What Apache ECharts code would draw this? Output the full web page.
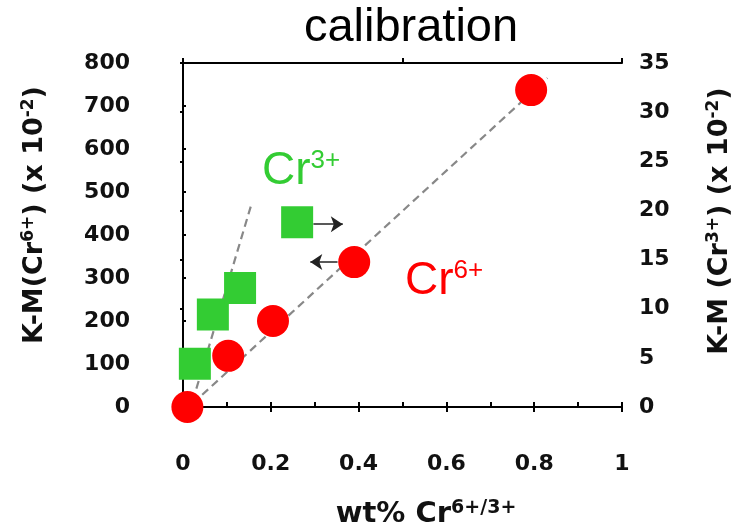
<!DOCTYPE html>
<html>
<head>
<meta charset="utf-8">
<script src="https://cdn.jsdelivr.net/npm/echarts@6/dist/echarts.min.js"></script>
<style>html,body{margin:0;padding:0;background:#fff}#c{width:749px;height:529px}</style>
</head>
<body>
<div id="c"></div>
<script>
// ---- data ----
const xTicks = [0, 0.2, 0.4, 0.6, 0.8, 1];
const cr6X = [0.01, 0.103, 0.205, 0.39, 0.793];
const cr6Y = [0, 119, 200, 337, 737];
const cr3X = [0.027, 0.068, 0.13, 0.26];
const cr3Y = [4.4, 9.4, 12.1, 18.8];
const cr6FitX = [0.022, 0.83];
const cr6FitY = [8, 765];
const cr3FitX = [0.022, 0.155];
const cr3FitY = [0.6, 20.5];
const arrowRightX = [0.297, 0.364];
const arrowRightY = [18.6, 18.6];
const arrowLeftX = [0.352, 0.29];
const arrowLeftY = [337, 337];

const BOLD = 'DejaVu Sans';
const chart = echarts.init(document.getElementById('c'));
const zip = (a, b) => a.map((v, i) => [v, b[i]]);
const axisLine = {show: true, lineStyle: {color: '#000', width: 2}};
const supTitle = (color) => ({
  a: {fontSize: 27, fontFamily: BOLD, fontWeight: 'bold', color: color, lineHeight: 30},
  b: {fontSize: 17, fontFamily: BOLD, fontWeight: 'bold', verticalAlign: 'top', color: color, lineHeight: 14}
});

chart.setOption({
  animation: false,
  grid: {left: 183, right: 127, top: 63, bottom: 122, containLabel: false},
  xAxis: [
    {type: 'value', min: 0, max: 1, interval: 0.2, position: 'bottom',
     axisLine: axisLine, splitLine: {show: false},
     axisTick: {show: true, inside: false, length: 5, lineStyle: {color: '#000', width: 2}},
     axisLabel: {margin: 46, color: '#111', fontFamily: BOLD, fontWeight: 'bold', fontSize: 22,
       formatter: v => String(v)}},
    {type: 'value', min: 0, max: 1, interval: 0.1, position: 'bottom',
     axisLine: {show: false}, splitLine: {show: false}, axisLabel: {show: false},
     axisTick: {show: true, inside: true, length: 5, lineStyle: {color: '#000', width: 2}}},
    {type: 'value', min: 0, max: 1, interval: 0.5, position: 'top',
     axisLine: axisLine, splitLine: {show: false}, axisLabel: {show: false},
     axisTick: {show: true, inside: false, length: 5, lineStyle: {color: '#000', width: 2}}}
  ],
  yAxis: [
    {type: 'value', min: 0, max: 800, interval: 100, position: 'left',
     axisLine: axisLine, splitLine: {show: false},
     axisTick: {show: true, inside: true, length: 3, lineStyle: {color: '#000', width: 2}},
     axisLabel: {margin: 53, color: '#111', fontFamily: BOLD, fontWeight: 'bold', fontSize: 22}},
    {type: 'value', min: 0, max: 35, interval: 5, position: 'right',
     axisLine: axisLine, splitLine: {show: false},
     axisTick: {show: true, inside: true, length: 3, lineStyle: {color: '#000', width: 2}},
     axisLabel: {margin: 17, color: '#111', fontFamily: BOLD, fontWeight: 'bold', fontSize: 22}}
  ],
  series: [
    {type: 'line', xAxisIndex: 0, yAxisIndex: 0, data: zip(cr6FitX, cr6FitY), symbol: 'none',
     lineStyle: {color: '#888', width: 2.2, type: [8, 5]}, z: 1},
    {type: 'line', xAxisIndex: 0, yAxisIndex: 1, data: zip(cr3FitX, cr3FitY), symbol: 'none',
     lineStyle: {color: '#888', width: 2.2, type: [8, 5]}, z: 1},
    {type: 'lines', coordinateSystem: 'cartesian2d', xAxisIndex: 0, yAxisIndex: 1,
     symbol: ['none', 'arrow'], symbolSize: 12,
     lineStyle: {color: '#222', width: 1.5, opacity: 1},
     data: [{coords: zip(arrowRightX, arrowRightY)}], z: 2},
    {type: 'lines', coordinateSystem: 'cartesian2d', xAxisIndex: 0, yAxisIndex: 0,
     symbol: ['none', 'arrow'], symbolSize: 12,
     lineStyle: {color: '#222', width: 1.5, opacity: 1},
     data: [{coords: zip(arrowLeftX, arrowLeftY)}], z: 2},
    {type: 'scatter', xAxisIndex: 0, yAxisIndex: 1, data: zip(cr3X, cr3Y), symbol: 'rect',
     symbolSize: 32, itemStyle: {color: '#33cc33', opacity: 1}, z: 3},
    {type: 'scatter', xAxisIndex: 0, yAxisIndex: 0, data: zip(cr6X, cr6Y), symbol: 'circle',
     symbolSize: 32, itemStyle: {color: '#ff0000', opacity: 1}, z: 4}
  ],
  graphic: [
    {type: 'text', x: 411, y: 28, style: {text: 'calibration', font: '47px "Liberation Sans"', fill: '#000', align: 'center', verticalAlign: 'middle'}},
    {type: 'text', x: 262, y: 194, style: {text: '{a|Cr}{b|3+}', fill: '#33cc33', verticalAlign: 'bottom',
      rich: {a: {fontSize: 46, fontFamily: 'Liberation Sans', color: '#33cc33'},
             b: {fontSize: 26, fontFamily: 'Liberation Sans', verticalAlign: 'top', color: '#33cc33'}}}},
    {type: 'text', x: 405, y: 304, style: {text: '{a|Cr}{b|6+}', fill: '#ff0000', verticalAlign: 'bottom',
      rich: {a: {fontSize: 46, fontFamily: 'Liberation Sans', color: '#ff0000'},
             b: {fontSize: 26, fontFamily: 'Liberation Sans', verticalAlign: 'top', color: '#ff0000'}}}},
    {type: 'text', x: 426, y: 514, style: {text: '{a|wt% Cr}{b|6+/3+}', align: 'center', verticalAlign: 'middle', fill: '#111',
      rich: {a: {fontSize: 29, fontFamily: BOLD, fontWeight: 'bold', color: '#111', lineHeight: 30},
             b: {fontSize: 19, fontFamily: BOLD, fontWeight: 'bold', verticalAlign: 'top', color: '#111', lineHeight: 16}}}},
    {type: 'text', x: 35, y: 215, rotation: Math.PI / 2, style: {text: '{a|K-M(Cr}{b|6+}{a|) (x 10}{b|-2}{a|)}', align: 'center', verticalAlign: 'middle', fill: '#111',
      rich: supTitle('#111')}},
    {type: 'text', x: 720, y: 221, rotation: Math.PI / 2, style: {text: '{a|K-M (Cr}{b|3+}{a|) (x 10}{b|-2}{a|)}', align: 'center', verticalAlign: 'middle', fill: '#111',
      rich: supTitle('#111')}}
  ]
});
</script>
</body>
</html>
